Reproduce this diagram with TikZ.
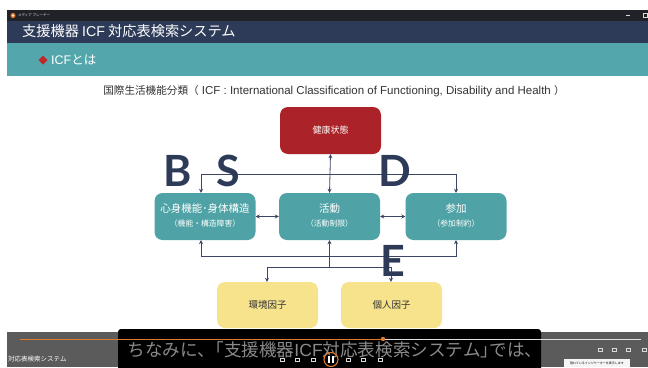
\documentclass[tikz,border=0pt]{standalone}
\usepackage{fontspec}
\setmainfont{Noto Sans CJK JP}
\newfontfamily\bigfont{Lato}
\newfontfamily\latinfont{Liberation Sans}
\usetikzlibrary{arrows.meta}
\definecolor{barblack}{HTML}{202228}
\definecolor{navy}{HTML}{2D3B59}
\definecolor{tealbar}{HTML}{53A6AB}
\definecolor{tealbox}{HTML}{4FA2A5}
\definecolor{redbox}{HTML}{AB2328}
\definecolor{yellowbox}{HTML}{F6E38C}
\definecolor{linecol}{HTML}{3B4664}
\definecolor{diam}{HTML}{C0272D}
\definecolor{playergray}{HTML}{5B5B5B}
\definecolor{overlay}{HTML}{2A2A2A}
\definecolor{subtext}{HTML}{8A8A8A}
\definecolor{orangeline}{HTML}{E07A2A}
\definecolor{darktext}{HTML}{333333}
\tikzset{
  cbox/.style={rounded corners=8pt, minimum width=101pt, minimum height=47pt, inner sep=0pt, draw=none},
  tbox/.style={cbox, fill=tealbox},
  ybox/.style={cbox, fill=yellowbox, minimum height=46pt, text=darktext, font=\fontsize{9.5}{11}\selectfont},
  rbox/.style={cbox, fill=redbox, text=white, font=\fontsize{9}{11}\selectfont},
  labA/.style={text=white, inner sep=0pt, font=\fontsize{10.5}{12}\selectfont},
  labB/.style={text=white, inner sep=0pt, font=\fontsize{7.8}{10}\selectfont},
  conn/.style={draw=linecol, line width=0.8pt, >={Stealth[length=4pt,width=4pt]}},
  bigletter/.style={text=navy, inner sep=0pt, font=\bigfont\bfseries\fontsize{43}{44}\selectfont},
}
\begin{document}
\begin{tikzpicture}[x=1pt,y=-1pt]
\useasboundingbox (0,0) rectangle (648,367);
\fill[white] (0,0) rectangle (648,367);
% title bar of the player
\fill[barblack] (7,10) rectangle (648,21);
\fill[orangeline] (13,15.5) circle (2.6pt);
\fill[white] (13,15.5) circle (1.1pt);
\node[anchor=west, text=white!80!gray, inner sep=0pt, font=\fontsize{3.5}{4}\selectfont] (appname) at (18,15.5) {メディア プレーヤー};
\draw[white!70!gray, line width=0.6pt] (626,15.5) -- (630,15.5);
\draw[white!70!gray, line width=0.6pt] (643,13.5) rectangle (647,17.5);
% slide header
\fill[navy] (7,21) rectangle (648,43);
\node[anchor=west, text=white, inner sep=0pt, font=\fontsize{14.2}{16}\selectfont] (title) at (22,31) {支援機器 {\latinfont ICF} 対応表検索システム};
\fill[tealbar] (7,43) rectangle (648,76);
\fill[diam] (43,55.5) -- (47.5,60) -- (43,64.5) -- (38.5,60) -- cycle;
\node[anchor=west, text=white, inner sep=0pt, font=\fontsize{12.5}{14}\selectfont] (icf) at (51,60) {{\latinfont ICF}とは};
% subtitle
\node[text=darktext, inner sep=0pt, font=\fontsize{10.6}{12}\selectfont] (sub) at (334,91) {国際生活機能分類（{\latinfont\fontsize{11.5}{12}\selectfont\ ICF : International Classification of Functioning, Disability and Health\ }）};
% boxes
\node[rbox] (health) at (330.5,130.5) {健康状態};
\node[tbox] (body) at (205,216.5) {};
\node[tbox] (act) at (329.5,216.5) {};
\node[tbox] (part) at (456,216.5) {};
\node[labA] (bodyA) at (205,208.5) {心身機能･身体構造};
\node[labB] (bodyB) at (205,223.5) {（機能・構造障害）};
\node[labA] (actA) at (329.5,208.5) {活動};
\node[labB] (actB) at (329.5,223.5) {（活動制限）};
\node[labA] (partA) at (456,208.5) {参加};
\node[labB] (partB) at (456,223.5) {（参加制約）};
\node[ybox] (env) at (267.5,305) {環境因子};
\node[ybox] (pers) at (391.5,305) {個人因子};
% connectors
\coordinate (tL) at (201,174);
\coordinate (tR) at (456,174);
\coordinate (bL) at (201,256);
\coordinate (bR) at (456,256);
\coordinate (eL) at (267,267);
\coordinate (eR) at (391,267);
\draw[conn, <->] (health.south) -- (act.north);
\draw[conn, ->] (tL) -- (tL |- body.north);
\draw[conn] (tL) -- (tR);
\draw[conn, ->] (tR) -- (tR |- part.north);
\draw[conn, <->] (body.east) -- (act.west);
\draw[conn, <->] (act.east) -- (part.west);
\draw[conn, <->] (tL |- body.south) -- (bL) -- (bR) -- (tR |- part.south);
\draw[conn, <-] (act.south) -- (act.south |- eL);
\draw[conn, <->] (eL |- env.north) -- (eL) -- (eR) -- (eR |- pers.north);
% big letters
\node[bigletter] (B) at (178,171) {B};
\node[bigletter] (S) at (228,171) {S};
\node[bigletter] (D) at (395,171) {D};
\node[bigletter] (E) at (393,261) {E};
% player bottom
\fill[playergray] (7,332) rectangle (648,367);
\fill[overlay, rounded corners=3pt] (118,329) rectangle (541,372);
\draw[white!75!gray, line width=0.6pt] (20,339) -- (641,339);
\draw[orangeline, line width=0.9pt] (20,339) -- (383,339);
\fill[orangeline] (383,339) circle (2.2pt);
\node[text=subtext, inner sep=0pt, font=\fontsize{17.6}{18}\selectfont] (caption) at (335,350) {ちなみに、\kern-0.5em「支援機器{\latinfont ICF}対応表検索システム」\kern-0.5emでは、};
\node[anchor=west, text=white, inner sep=0pt, font=\fontsize{6.5}{8}\selectfont] (fname) at (8,359.5) {対応表検索システム};
% controls
\draw[orangeline, line width=1.1pt] (331,359.5) circle (7pt);
\fill[white] (328,356) rectangle (329.8,363);
\fill[white] (332.2,356) rectangle (334,363);
\foreach \xx in {282,297,313,348,363,380} {
  \draw[white!70!gray, line width=0.4pt] (\xx-1.8,358) rectangle (\xx+1.8,361);
}
% tooltip and right icons
\fill[white!92!gray] (564,359) rectangle (630,367);
\node[text=black, inner sep=0pt, font=\fontsize{3}{4}\selectfont] (tip) at (597,363) {隠れているインジケーターを表示します};
\foreach \xx in {600,614,628,644} {
  \draw[white!70!gray, line width=0.4pt] (\xx-1.8,348.5) rectangle (\xx+1.8,351.5);
}
\end{tikzpicture}
\end{document}
